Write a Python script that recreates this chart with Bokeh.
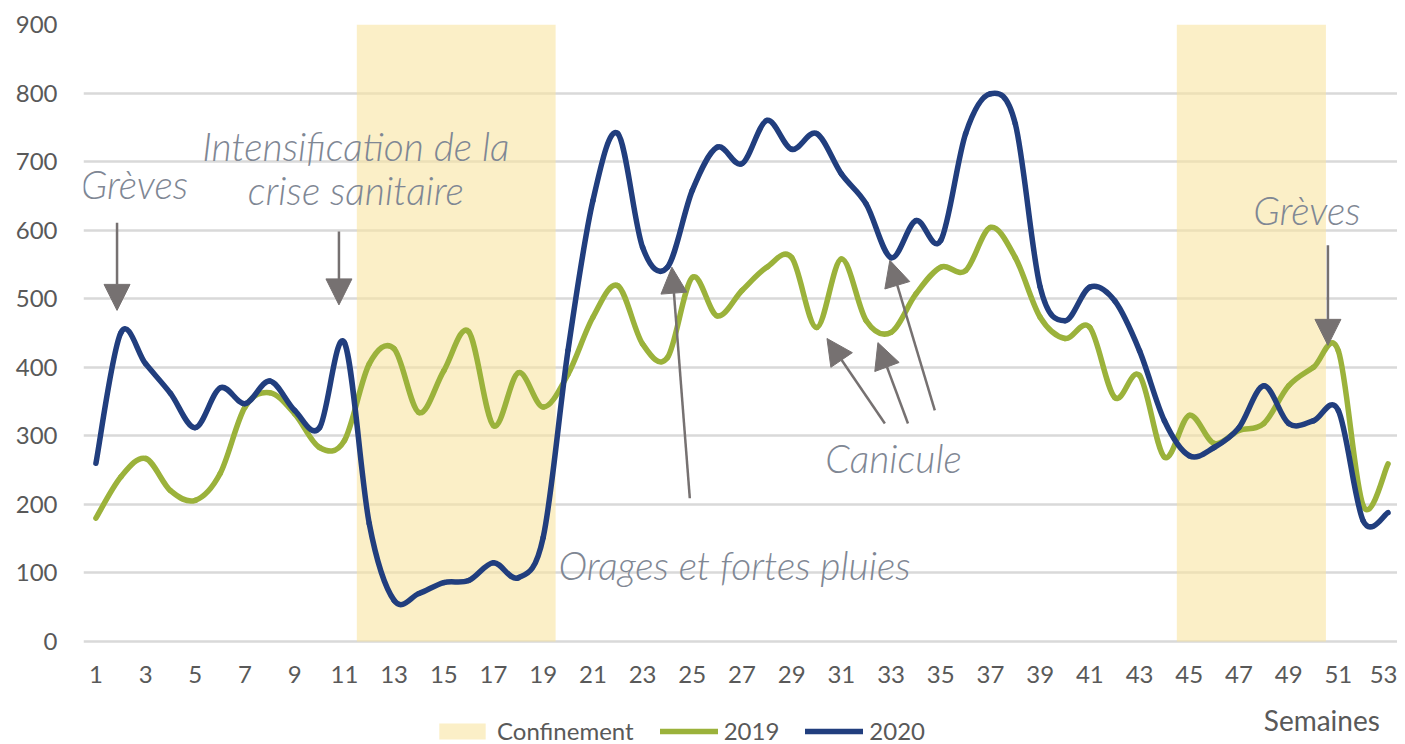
import numpy as np
from bokeh.plotting import figure
from bokeh.models import (ColumnDataSource, Range1d, FixedTicker, Legend, LegendItem,
                          Label, Arrow, NormalHead, LinearAxis)
from bokeh.embed import file_html
from bokeh.resources import INLINE

# ---- data -------------------------------------------------------------
weeks = list(range(1, 54))
y2019 = [180, 240, 267, 220, 206, 245, 342, 363, 332, 283,
         293, 405, 427, 334, 395, 452, 315, 392, 342, 390,
         473, 519, 434, 414, 531, 475, 512, 546, 560, 458,
         558, 468, 451, 507, 546, 541, 604, 560, 473, 442,
         458, 356, 388, 269, 330, 289, 308, 318, 373, 400,
         424, 198, 259]
y2020 = [260, 450, 405, 362, 312, 370, 347, 380, 337, 312,
         436, 172, 60, 70, 86, 89, 115, 93, 152, 425,
         643, 741, 575, 546, 658, 721, 697, 760, 718, 741,
         682, 638, 560, 614, 585, 741, 799, 755, 517, 468,
         517, 497, 424, 322, 271, 283, 312, 373, 318, 322,
         337, 176, 188]
conf_start = [11.5, 44.5]
conf_end = [19.5, 50.5]
y_ticks = [0, 100, 200, 300, 400, 500, 600, 700, 800, 900]
week_ticks = list(range(1, 54, 2))
series_names = ["Confinement", "2019", "2020"]

GREEN = "#9BB23B"
BLUE = "#213E7E"
GREY_TXT = "#595959"
ANN = "#7F8794"
ARROW = "#767171"
FONT = "Lato"
ANN_FONT = "Lato Light"

# frame runs down to the bottom of the page so that the x axis (fixed at y=0),
# the "Semaines" label and the legend can sit below the zero line
p = figure(frame_width=1314, frame_height=720, output_backend="svg",
           toolbar_location=None, x_axis_location=None,
           x_range=Range1d(0.5, 53.38), y_range=Range1d(-150.2, 900),
           min_border_left=83, min_border_right=0, min_border_top=24,
           min_border_bottom=0)
p.outline_line_color = None
p.background_fill_color = "white"

for g in p.xgrid:
    g.visible = False
p.ygrid.grid_line_color = "#D9D9D9"
p.ygrid.grid_line_width = 2.5
p.yaxis.ticker = FixedTicker(ticks=y_ticks)

xaxis = LinearAxis(fixed_location=0, ticker=FixedTicker(ticks=week_ticks))
p.add_layout(xaxis, "below")

for ax in (xaxis, p.yaxis[0]):
    ax.axis_line_color = None
    ax.major_tick_line_color = None
    ax.minor_tick_line_color = None
    ax.major_tick_out = 0
    ax.major_tick_in = 0
    ax.major_label_text_font = FONT
    ax.major_label_text_font_size = "24px"
    ax.major_label_text_color = GREY_TXT
p.yaxis.major_label_standoff = 26
xaxis.major_label_standoff = 24

# confinement shading
conf_src = ColumnDataSource(dict(left=conf_start, right=conf_end,
                                 bottom=[0, 0], top=[900, 900]))
r_conf = p.quad(left="left", right="right", bottom="bottom", top="top",
                source=conf_src, fill_color="#F8E4A2", fill_alpha=0.6,
                line_color=None)

# smooth (Excel-like) curves drawn as cubic bezier segments through the data
def bezier_segments(xs, ys):
    x = np.asarray(xs, float)
    y = np.asarray(ys, float)
    xp = np.concatenate([[x[0]], x, [x[-1]]])
    yp = np.concatenate([[y[0]], y, [y[-1]]])
    n = len(x) - 1
    d = dict(x0=x[:-1], y0=y[:-1], x1=x[1:], y1=y[1:])
    d["cx0"] = x[:-1] + (xp[2:n + 2] - xp[0:n]) / 6.0
    d["cy0"] = y[:-1] + (yp[2:n + 2] - yp[0:n]) / 6.0
    d["cx1"] = x[1:] - (xp[3:n + 3] - xp[1:n + 1]) / 6.0
    d["cy1"] = y[1:] - (yp[3:n + 3] - yp[1:n + 1]) / 6.0
    return ColumnDataSource(d)

curves = []
for ys, col in ((y2019, GREEN), (y2020, BLUE)):
    curves.append(p.bezier(x0="x0", y0="y0", x1="x1", y1="y1", cx0="cx0",
                           cy0="cy0", cx1="cx1", cy1="cy1",
                           source=bezier_segments(weeks, ys),
                           line_color=col, line_width=5.5, line_cap="round"))

# x-axis title
p.add_layout(Label(x=52.67, y=-114, text="Semaines", text_align="right",
                   text_baseline="middle", text_font=FONT,
                   text_font_size="28px", text_color=GREY_TXT))

# legend
legend = Legend(items=[LegendItem(label=series_names[0], renderers=[r_conf]),
                       LegendItem(label=series_names[1], renderers=[curves[0]]),
                       LegendItem(label=series_names[2], renderers=[curves[1]])],
                orientation="horizontal", location=(350, -1),
                glyph_width=58, glyph_height=20, label_standoff=6, spacing=26,
                padding=0, margin=0, border_line_color=None,
                background_fill_alpha=0, label_text_font=FONT,
                label_text_font_size="24px", label_text_color=GREY_TXT)
p.add_layout(legend, "center")

# annotations
def ann(x, y, t):
    p.add_layout(Label(x=x, y=y, text=t, text_align="center",
                       text_baseline="middle", text_font=ANN_FONT,
                       text_font_style="italic", text_font_size="39px",
                       text_color=ANN))

ann(2.55, 668, "Grèves")
ann(11.46, 723, "Intensification de la")
ann(11.46, 658, "crise sanitaire")
ann(26.7, 111, "Orages et fortes pluies")
ann(33.1, 267, "Canicule")
ann(49.73, 629, "Grèves")

def arrow(xs, ys, xe, ye):
    p.add_layout(Arrow(end=NormalHead(size=26, fill_color=ARROW, line_color=ARROW),
                       x_start=xs, y_start=ys, x_end=xe, y_end=ye,
                       line_color=ARROW, line_width=2.5))

arrow(1.85, 611, 1.85, 483)
arrow(10.78, 598, 10.78, 491)
arrow(24.9, 209, 24.18, 546)
arrow(32.75, 318, 30.42, 442)
arrow(33.68, 318, 32.47, 436)
arrow(34.76, 337, 32.95, 556)
arrow(50.58, 578, 50.58, 432)

open("out.html", "w").write(file_html(p, INLINE))
